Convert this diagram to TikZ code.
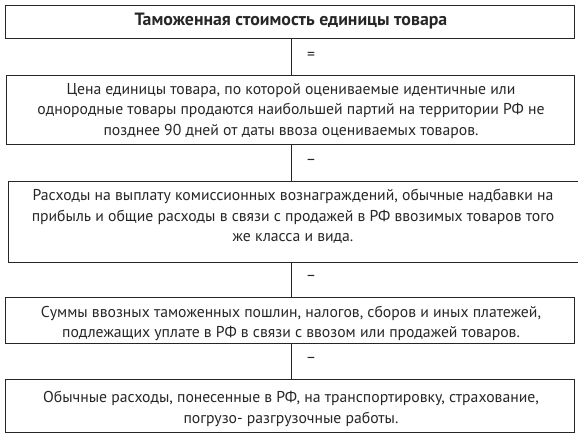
\documentclass[tikz,border=0pt]{standalone}
\usepackage{fontspec}
\setmainfont{PT Sans}
\begin{document}
\begin{tikzpicture}[x=1pt,y=-1pt,
  box/.style={draw=black!85,line width=0.9pt,minimum height=#1,inner sep=0pt,anchor=north west},
  txt/.style={align=center,inner sep=0pt,font=\fontsize{15.7}{20.5}\selectfont,text=black!85},
  conn/.style={draw=black!85,line width=0.9pt},
  op/.style={inner sep=0pt,font=\fontsize{15.7}{17}\selectfont,text=black!85}]
\useasboundingbox (0,0) rectangle (583,437);
\node[box=33pt,minimum width=569pt] (b1) at (5,5) {};
\node[txt,font=\bfseries\fontsize{17.8}{21}\selectfont] (t1) at (291,21) {Таможенная стоимость единицы товара};
\node[box=69pt,minimum width=568pt] (b2) at (6,75) {};
\node[txt,anchor=north] (t2) at (291,83) {Цена единицы товара, по которой оцениваемые идентичные или\\однородные товары продаются наибольшей партий на территории РФ не\\позднее 90 дней от даты ввоза оцениваемых товаров.};
\node[inner sep=0pt,minimum width=570pt,minimum height=81pt,anchor=north west] (b3) at (8,181) {};
\draw[conn] (b3.north east) -- (b3.north west) -- (b3.south west) -- (b3.south east);
\node[txt,anchor=north] (t3) at (293,189) {Расходы на выплату комиссионных вознаграждений, обычные надбавки на\\прибыль и общие расходы в связи с продажей в РФ ввозимых товаров того\\же класса и вида.};
\node[box=46pt,minimum width=569pt] (b4) at (5,297) {};
\node[txt,anchor=north] (t4) at (291,305.5) {Суммы ввозных таможенных пошлин, налогов, сборов и иных платежей,\\подлежащих уплате в РФ в связи с ввозом или продажей товаров.};
\node[box=53pt,minimum width=569pt] (b5) at (5,379) {};
\node[txt,anchor=north] (t5) at (291,391) {Обычные расходы, понесенные в РФ, на транспортировку, страхование,\\погрузо- разгрузочные работы.};
\draw[conn] (291,0 |- b1.south) -- (291,0 |- b2.north);
\draw[conn] (291,0 |- b2.south) -- (291,0 |- b3.north);
\draw[conn] (291,0 |- b3.south) -- (291,0 |- b4.north);
\draw[conn] (291,0 |- b4.south) -- (291,0 |- b5.north);
\node[op] (o1) at (311,56) {=};
\node[op] (o2) at (311,162) {–};
\node[op] (o3) at (311,278) {–};
\node[op] (o4) at (311,360) {–};
\end{tikzpicture}
\end{document}
